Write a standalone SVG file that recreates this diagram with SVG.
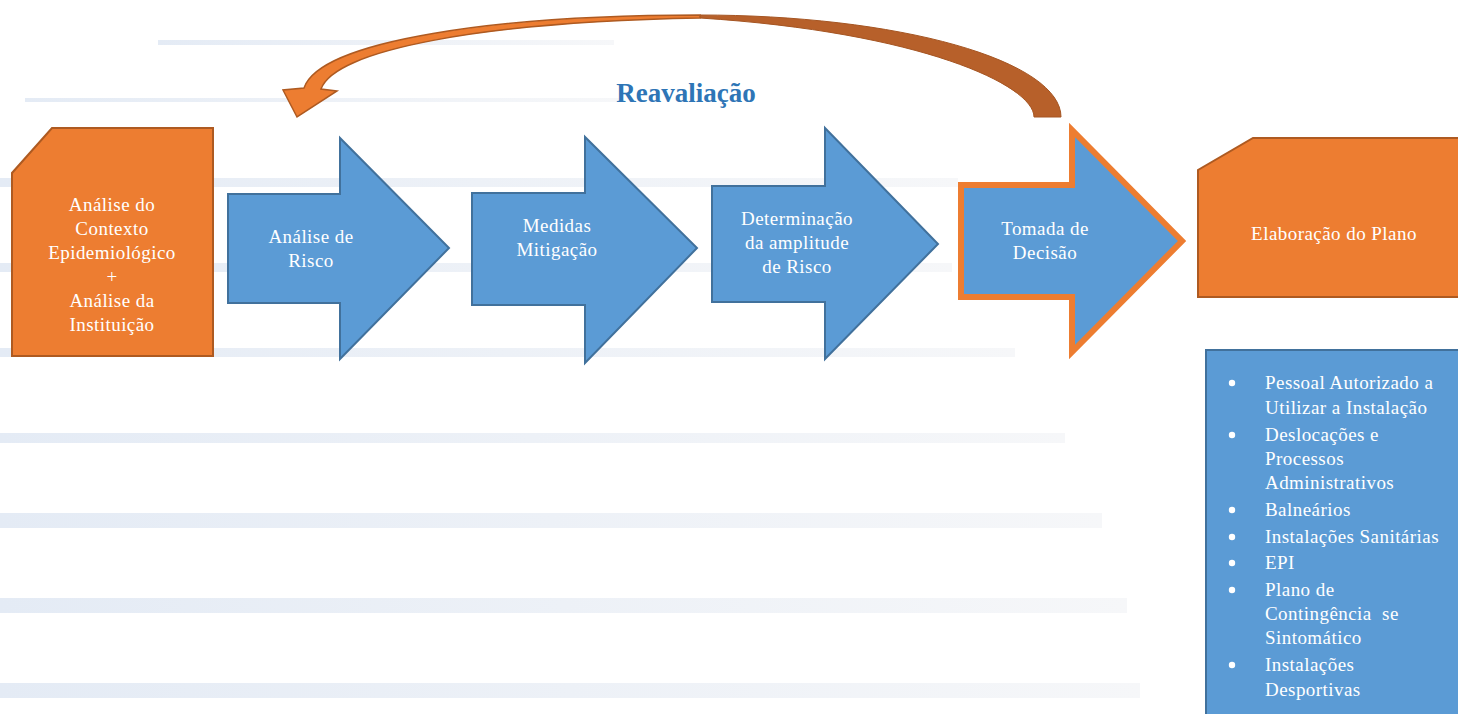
<svg xmlns="http://www.w3.org/2000/svg" width="1458" height="714" viewBox="0 0 1458 714">
<defs>
<linearGradient id="bgl" x1="0" y1="0" x2="1" y2="0">
<stop offset="0" stop-color="#e4ebf5"/>
<stop offset="1" stop-color="#f6f7f9"/>
</linearGradient>
<style>
.bg{fill:url(#bgl)}
.onode{fill:#ED7D31;stroke:#AE5A21;stroke-width:2}
.barrow{fill:#5B9BD5;stroke:#41719C;stroke-width:2;stroke-linejoin:miter}
.t{font-family:"Liberation Serif","Times New Roman",serif;font-size:19px;fill:#ffffff;letter-spacing:0.45px}
.c{text-anchor:middle}
.bul{fill:#ffffff}
.title{font-family:"Liberation Serif","Times New Roman",serif;font-size:27px;font-weight:bold;fill:#2E75B6}
</style>
</defs>
<rect width="1458" height="714" fill="#ffffff"/>
<g id="background">
<rect class="bg" x="158" y="40" width="456" height="5"/>
<rect class="bg" x="25" y="98" width="595" height="4"/>
<rect class="bg" x="0" y="178" width="958" height="9"/>
<rect class="bg" x="0" y="263" width="952" height="9"/>
<rect class="bg" x="0" y="348" width="1015" height="9"/>
<rect class="bg" x="0" y="433" width="1065" height="10"/>
<rect class="bg" x="0" y="513" width="1102" height="15"/>
<rect class="bg" x="0" y="598" width="1127" height="15"/>
<rect class="bg" x="0" y="683" width="1140" height="15"/>
</g>
<g id="connectors">
<path d="M700,15 A361,102 0 0 1 1061,117 L1034,117 C1034,85 920,32 700,18 Z" fill="#B7602A" stroke="#A55522" stroke-width="1"/>
<path d="M700,15 C500,15 320,40 304,88 L283,90 L297,117 L337,91 L321,89 C335,50 480,22 700,18 Z" fill="#ED7D31" stroke="#AE5A21" stroke-width="1.5" stroke-linejoin="miter"/>
</g>
<g id="label-reavaliacao">
<text class="title" x="686" y="102" text-anchor="middle">Reavaliação</text>
</g>
<g id="node-contexto">
<polygon class="onode" points="52,128 213,128 213,356 12,356 12,173"/>
<text class="t c" x="112" y="211">Análise do</text>
<text class="t c" x="112" y="235">Contexto</text>
<text class="t c" x="112" y="259">Epidemiológico</text>
<text class="t c" x="112" y="283">+</text>
<text class="t c" x="112" y="307">Análise da</text>
<text class="t c" x="112" y="331">Instituição</text>
</g>
<g id="node-analise-risco">
<polygon class="barrow" points="228,194 340,194 340,138 449,248 340,359 340,303 228,303"/>
<text class="t c" x="311" y="243">Análise de</text>
<text class="t c" x="311" y="267">Risco</text>
</g>
<g id="node-medidas">
<polygon class="barrow" points="472,193 585,193 585,137 697,248 585,363 585,305 472,305"/>
<text class="t c" x="557" y="232">Medidas</text>
<text class="t c" x="557" y="256">Mitigação</text>
</g>
<g id="node-determinacao">
<polygon class="barrow" points="712,186 825,186 825,128 938,244 825,359 825,302 712,302"/>
<text class="t c" x="797" y="225">Determinação</text>
<text class="t c" x="797" y="249">da amplitude</text>
<text class="t c" x="797" y="273">de Risco</text>
</g>
<g id="node-tomada">
<polygon points="961,185 1072,185 1072,130 1182,241 1072,352 1072,297 961,297" fill="#5B9BD5" stroke="#ED7D31" stroke-width="6" stroke-linejoin="miter"/>
<text class="t c" x="1045" y="235">Tomada de</text>
<text class="t c" x="1045" y="259">Decisão</text>
</g>
<g id="node-elaboracao">
<polygon class="onode" points="1253,138 1462,138 1462,297 1198,297 1198,170"/>
<text class="t c" x="1334" y="240">Elaboração do Plano</text>
</g>
<g id="node-lista">
<rect x="1206" y="350" width="260" height="370" fill="#5B9BD5" stroke="#41719C" stroke-width="2"/>
<circle class="bul" cx="1232" cy="383" r="3.2"/>
<circle class="bul" cx="1232" cy="435" r="3.2"/>
<circle class="bul" cx="1232" cy="510" r="3.2"/>
<circle class="bul" cx="1232" cy="537" r="3.2"/>
<circle class="bul" cx="1232" cy="563" r="3.2"/>
<circle class="bul" cx="1232" cy="590" r="3.2"/>
<circle class="bul" cx="1232" cy="665" r="3.2"/>
<text class="t" x="1265" y="389">Pessoal Autorizado a</text>
<text class="t" x="1265" y="414">Utilizar a Instalação</text>
<text class="t" x="1265" y="441">Deslocações e</text>
<text class="t" x="1265" y="465">Processos</text>
<text class="t" x="1265" y="489">Administrativos</text>
<text class="t" x="1265" y="516">Balneários</text>
<text class="t" x="1265" y="543">Instalações Sanitárias</text>
<text class="t" x="1265" y="569">EPI</text>
<text class="t" x="1265" y="596">Plano de</text>
<text class="t" x="1265" y="620" style="white-space:pre">Contingência  se</text>
<text class="t" x="1265" y="644">Sintomático</text>
<text class="t" x="1265" y="671">Instalações</text>
<text class="t" x="1265" y="696">Desportivas</text>
</g>
</svg>
